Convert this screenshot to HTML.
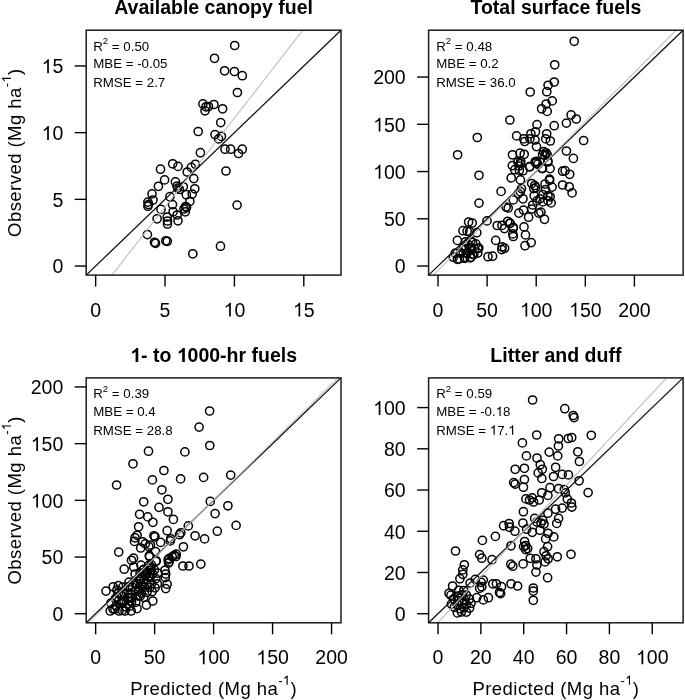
<!DOCTYPE html><html><head><meta charset="utf-8"><style>html,body{margin:0;padding:0;background:#fff;}svg{display:block;will-change:transform}</style></head><body>
<svg width="685" height="700" viewBox="0 0 685 700" font-family='"Liberation Sans", sans-serif'>
<rect width="685" height="700" fill="#fff"/>
<g fill="none" stroke="#000" stroke-width="1.5">
<circle cx="234.7" cy="45.5" r="4.1"/>
<circle cx="214.5" cy="58.3" r="4.1"/>
<circle cx="224.6" cy="70.8" r="4.1"/>
<circle cx="234.4" cy="71.5" r="4.1"/>
<circle cx="242.3" cy="75.7" r="4.1"/>
<circle cx="237.4" cy="92.5" r="4.1"/>
<circle cx="202.9" cy="103.9" r="4.1"/>
<circle cx="205.0" cy="110.8" r="4.1"/>
<circle cx="206.0" cy="106.8" r="4.1"/>
<circle cx="208.5" cy="106.5" r="4.1"/>
<circle cx="213.9" cy="104.5" r="4.1"/>
<circle cx="222.6" cy="108.8" r="4.1"/>
<circle cx="220.7" cy="122.6" r="4.1"/>
<circle cx="198.2" cy="131.5" r="4.1"/>
<circle cx="215.0" cy="134.6" r="4.1"/>
<circle cx="221.4" cy="136.4" r="4.1"/>
<circle cx="218.6" cy="138.9" r="4.1"/>
<circle cx="200.4" cy="152.7" r="4.1"/>
<circle cx="225.0" cy="149.2" r="4.1"/>
<circle cx="230.6" cy="149.2" r="4.1"/>
<circle cx="242.3" cy="149.2" r="4.1"/>
<circle cx="238.5" cy="153.5" r="4.1"/>
<circle cx="172.7" cy="163.8" r="4.1"/>
<circle cx="178.0" cy="166.4" r="4.1"/>
<circle cx="160.5" cy="169.2" r="4.1"/>
<circle cx="164.6" cy="179.9" r="4.1"/>
<circle cx="158.4" cy="186.3" r="4.1"/>
<circle cx="152.0" cy="193.9" r="4.1"/>
<circle cx="153.0" cy="200.0" r="4.1"/>
<circle cx="147.9" cy="202.1" r="4.1"/>
<circle cx="147.9" cy="206.2" r="4.1"/>
<circle cx="175.4" cy="181.9" r="4.1"/>
<circle cx="177.7" cy="188.1" r="4.1"/>
<circle cx="183.3" cy="186.8" r="4.1"/>
<circle cx="187.2" cy="172.0" r="4.1"/>
<circle cx="191.3" cy="167.4" r="4.1"/>
<circle cx="195.4" cy="164.3" r="4.1"/>
<circle cx="193.8" cy="178.6" r="4.1"/>
<circle cx="194.8" cy="188.8" r="4.1"/>
<circle cx="186.3" cy="194.7" r="4.1"/>
<circle cx="192.2" cy="194.1" r="4.1"/>
<circle cx="189.9" cy="201.3" r="4.1"/>
<circle cx="185.6" cy="206.5" r="4.1"/>
<circle cx="185.3" cy="211.8" r="4.1"/>
<circle cx="169.9" cy="196.7" r="4.1"/>
<circle cx="172.5" cy="204.6" r="4.1"/>
<circle cx="173.1" cy="211.8" r="4.1"/>
<circle cx="161.0" cy="209.4" r="4.1"/>
<circle cx="167.2" cy="217.0" r="4.1"/>
<circle cx="177.1" cy="215.0" r="4.1"/>
<circle cx="157.1" cy="218.8" r="4.1"/>
<circle cx="167.5" cy="221.0" r="4.1"/>
<circle cx="167.5" cy="224.0" r="4.1"/>
<circle cx="178.0" cy="220.8" r="4.1"/>
<circle cx="147.4" cy="234.6" r="4.1"/>
<circle cx="154.5" cy="242.3" r="4.1"/>
<circle cx="155.5" cy="243.3" r="4.1"/>
<circle cx="165.8" cy="240.8" r="4.1"/>
<circle cx="167.3" cy="241.3" r="4.1"/>
<circle cx="192.8" cy="253.8" r="4.1"/>
<circle cx="237.1" cy="205.1" r="4.1"/>
<circle cx="220.5" cy="246.2" r="4.1"/>
<circle cx="226.0" cy="171.0" r="4.1"/>
<circle cx="148.5" cy="204.5" r="4.1"/>
<circle cx="186.5" cy="207.5" r="4.1"/>
<circle cx="184.0" cy="209.0" r="4.1"/>
<circle cx="177.0" cy="186.0" r="4.1"/>
<circle cx="179.5" cy="189.5" r="4.1"/>
</g>
<line x1="86.2" y1="275.1" x2="341.0" y2="30.2" stroke="#111" stroke-width="1.3"/>
<line x1="112.0" y1="275.1" x2="302.9" y2="30.2" stroke="#bebebe" stroke-width="1.1"/>
<rect x="86.2" y="30.2" width="254.8" height="244.9" fill="none" stroke="#1c1c1c" stroke-width="1.5"/>
<line x1="95.64" y1="275.1" x2="95.64" y2="286.6" stroke="#000" stroke-width="1.4"/>
<line x1="74.7" y1="266.03" x2="86.2" y2="266.03" stroke="#000" stroke-width="1.4"/>
<text x="95.64" y="316.6" font-size="19.5" text-anchor="middle">0</text>
<text x="63.3" y="273.3" font-size="19.5" text-anchor="end">0</text>
<line x1="165.03" y1="275.1" x2="165.03" y2="286.6" stroke="#000" stroke-width="1.4"/>
<line x1="74.7" y1="199.34" x2="86.2" y2="199.34" stroke="#000" stroke-width="1.4"/>
<text x="165.03" y="316.6" font-size="19.5" text-anchor="middle">5</text>
<text x="63.3" y="206.6" font-size="19.5" text-anchor="end">5</text>
<line x1="234.42" y1="275.1" x2="234.42" y2="286.6" stroke="#000" stroke-width="1.4"/>
<line x1="74.7" y1="132.64" x2="86.2" y2="132.64" stroke="#000" stroke-width="1.4"/>
<text x="234.42" y="316.6" font-size="19.5" text-anchor="middle">&#8199;0</text>
<text x="63.3" y="139.9" font-size="19.5" text-anchor="end">&#8199;0</text>
<line x1="303.81" y1="275.1" x2="303.81" y2="286.6" stroke="#000" stroke-width="1.4"/>
<line x1="74.7" y1="65.95" x2="86.2" y2="65.95" stroke="#000" stroke-width="1.4"/>
<text x="303.81" y="316.6" font-size="19.5" text-anchor="middle">&#8199;5</text>
<text x="63.3" y="73.2" font-size="19.5" text-anchor="end">&#8199;5</text>
<text x="213.6" y="14.2" font-size="19.5" font-weight="bold" text-anchor="middle">Available canopy fuel</text>
<text x="93.2" y="50.7" font-size="13.3">R<tspan dy="-6.5" font-size="9.6">2</tspan><tspan dy="6.5"> = 0.50</tspan></text>
<text x="93.2" y="68.3" font-size="13.3">MBE = -0.05</text>
<text x="93.2" y="87.1" font-size="13.3">RMSE = 2.7</text>
<g transform="translate(21,152.7) rotate(-90)"><text font-size="18.5" letter-spacing="0.45" text-anchor="middle">Observed (Mg ha<tspan dy="-10" font-size="13" letter-spacing="0.3">-&#8199;</tspan><tspan dy="10">)</tspan></text><path transform="matrix(0.00635 0 0 -0.00635 70.07 -10.00)" d="M763 0L583 0L583 1147C540 1106 483 1065 413 1024C343 983 280 952 223 931L223 1105C323 1152 411 1210 486 1277C561 1344 614 1407 645 1466L763 1466Z"/></g>
<g fill="none" stroke="#000" stroke-width="1.5">
<circle cx="574.2" cy="41.3" r="4.1"/>
<circle cx="554.7" cy="64.8" r="4.1"/>
<circle cx="554.2" cy="82.0" r="4.1"/>
<circle cx="548.1" cy="85.3" r="4.1"/>
<circle cx="546.8" cy="91.7" r="4.1"/>
<circle cx="530.2" cy="92.0" r="4.1"/>
<circle cx="552.2" cy="100.9" r="4.1"/>
<circle cx="546.1" cy="104.0" r="4.1"/>
<circle cx="541.6" cy="108.8" r="4.1"/>
<circle cx="547.2" cy="111.4" r="4.1"/>
<circle cx="509.9" cy="120.0" r="4.1"/>
<circle cx="537.0" cy="124.6" r="4.1"/>
<circle cx="554.2" cy="125.7" r="4.1"/>
<circle cx="516.6" cy="135.9" r="4.1"/>
<circle cx="530.9" cy="133.8" r="4.1"/>
<circle cx="535.5" cy="131.8" r="4.1"/>
<circle cx="523.7" cy="138.9" r="4.1"/>
<circle cx="529.9" cy="138.9" r="4.1"/>
<circle cx="535.0" cy="140.0" r="4.1"/>
<circle cx="524.7" cy="141.5" r="4.1"/>
<circle cx="546.7" cy="133.8" r="4.1"/>
<circle cx="545.7" cy="138.9" r="4.1"/>
<circle cx="550.3" cy="141.0" r="4.1"/>
<circle cx="536.5" cy="146.6" r="4.1"/>
<circle cx="543.7" cy="151.7" r="4.1"/>
<circle cx="546.0" cy="152.8" r="4.1"/>
<circle cx="544.9" cy="155.2" r="4.1"/>
<circle cx="542.5" cy="154.6" r="4.1"/>
<circle cx="547.2" cy="154.6" r="4.1"/>
<circle cx="512.5" cy="154.8" r="4.1"/>
<circle cx="520.1" cy="153.2" r="4.1"/>
<circle cx="524.2" cy="154.3" r="4.1"/>
<circle cx="520.7" cy="161.4" r="4.1"/>
<circle cx="536.5" cy="161.4" r="4.1"/>
<circle cx="535.2" cy="161.8" r="4.1"/>
<circle cx="537.8" cy="164.2" r="4.1"/>
<circle cx="520.5" cy="163.5" r="4.1"/>
<circle cx="519.0" cy="166.0" r="4.1"/>
<circle cx="547.8" cy="161.0" r="4.1"/>
<circle cx="542.5" cy="168.6" r="4.1"/>
<circle cx="550.1" cy="168.6" r="4.1"/>
<circle cx="529.7" cy="166.9" r="4.1"/>
<circle cx="549.5" cy="179.1" r="4.1"/>
<circle cx="571.1" cy="114.9" r="4.1"/>
<circle cx="576.3" cy="119.0" r="4.1"/>
<circle cx="566.4" cy="123.1" r="4.1"/>
<circle cx="583.6" cy="140.5" r="4.1"/>
<circle cx="566.4" cy="151.0" r="4.1"/>
<circle cx="573.4" cy="158.4" r="4.1"/>
<circle cx="477.3" cy="137.5" r="4.1"/>
<circle cx="457.6" cy="154.8" r="4.1"/>
<circle cx="479.0" cy="175.3" r="4.1"/>
<circle cx="501.1" cy="191.4" r="4.1"/>
<circle cx="512.3" cy="165.6" r="4.1"/>
<circle cx="517.9" cy="162.0" r="4.1"/>
<circle cx="514.8" cy="169.7" r="4.1"/>
<circle cx="519.4" cy="170.2" r="4.1"/>
<circle cx="523.0" cy="170.7" r="4.1"/>
<circle cx="511.2" cy="177.9" r="4.1"/>
<circle cx="520.4" cy="179.9" r="4.1"/>
<circle cx="529.6" cy="166.6" r="4.1"/>
<circle cx="535.8" cy="163.1" r="4.1"/>
<circle cx="541.9" cy="168.2" r="4.1"/>
<circle cx="548.0" cy="162.0" r="4.1"/>
<circle cx="562.6" cy="171.2" r="4.1"/>
<circle cx="565.1" cy="170.7" r="4.1"/>
<circle cx="569.7" cy="174.3" r="4.1"/>
<circle cx="562.6" cy="185.0" r="4.1"/>
<circle cx="569.2" cy="186.8" r="4.1"/>
<circle cx="572.1" cy="192.9" r="4.1"/>
<circle cx="531.7" cy="183.5" r="4.1"/>
<circle cx="534.7" cy="185.5" r="4.1"/>
<circle cx="535.8" cy="187.6" r="4.1"/>
<circle cx="533.7" cy="188.6" r="4.1"/>
<circle cx="545.0" cy="184.0" r="4.1"/>
<circle cx="549.6" cy="180.4" r="4.1"/>
<circle cx="552.1" cy="187.1" r="4.1"/>
<circle cx="545.5" cy="189.6" r="4.1"/>
<circle cx="542.9" cy="194.7" r="4.1"/>
<circle cx="548.0" cy="195.8" r="4.1"/>
<circle cx="550.1" cy="196.8" r="4.1"/>
<circle cx="534.2" cy="195.8" r="4.1"/>
<circle cx="539.9" cy="198.8" r="4.1"/>
<circle cx="542.9" cy="201.9" r="4.1"/>
<circle cx="548.0" cy="200.9" r="4.1"/>
<circle cx="551.1" cy="202.9" r="4.1"/>
<circle cx="536.8" cy="200.9" r="4.1"/>
<circle cx="532.7" cy="205.0" r="4.1"/>
<circle cx="521.5" cy="188.6" r="4.1"/>
<circle cx="520.4" cy="191.7" r="4.1"/>
<circle cx="518.4" cy="193.7" r="4.1"/>
<circle cx="513.3" cy="199.9" r="4.1"/>
<circle cx="523.0" cy="198.8" r="4.1"/>
<circle cx="506.1" cy="207.0" r="4.1"/>
<circle cx="508.2" cy="208.0" r="4.1"/>
<circle cx="518.9" cy="213.1" r="4.1"/>
<circle cx="523.5" cy="210.1" r="4.1"/>
<circle cx="528.6" cy="217.2" r="4.1"/>
<circle cx="531.7" cy="209.0" r="4.1"/>
<circle cx="538.8" cy="213.1" r="4.1"/>
<circle cx="540.9" cy="212.1" r="4.1"/>
<circle cx="544.5" cy="219.3" r="4.1"/>
<circle cx="507.7" cy="221.3" r="4.1"/>
<circle cx="510.2" cy="223.4" r="4.1"/>
<circle cx="513.3" cy="227.4" r="4.1"/>
<circle cx="524.0" cy="226.9" r="4.1"/>
<circle cx="502.0" cy="225.4" r="4.1"/>
<circle cx="479.0" cy="203.1" r="4.1"/>
<circle cx="487.0" cy="220.9" r="4.1"/>
<circle cx="468.6" cy="222.0" r="4.1"/>
<circle cx="472.2" cy="223.0" r="4.1"/>
<circle cx="463.0" cy="230.7" r="4.1"/>
<circle cx="467.1" cy="231.2" r="4.1"/>
<circle cx="469.6" cy="231.7" r="4.1"/>
<circle cx="476.8" cy="232.7" r="4.1"/>
<circle cx="457.4" cy="240.4" r="4.1"/>
<circle cx="465.5" cy="241.9" r="4.1"/>
<circle cx="470.7" cy="240.9" r="4.1"/>
<circle cx="475.8" cy="243.9" r="4.1"/>
<circle cx="478.8" cy="248.0" r="4.1"/>
<circle cx="463.5" cy="248.0" r="4.1"/>
<circle cx="469.6" cy="248.0" r="4.1"/>
<circle cx="474.7" cy="249.0" r="4.1"/>
<circle cx="455.3" cy="253.1" r="4.1"/>
<circle cx="460.4" cy="253.1" r="4.1"/>
<circle cx="466.6" cy="253.1" r="4.1"/>
<circle cx="472.7" cy="254.2" r="4.1"/>
<circle cx="477.8" cy="253.1" r="4.1"/>
<circle cx="457.4" cy="259.3" r="4.1"/>
<circle cx="464.5" cy="257.2" r="4.1"/>
<circle cx="470.7" cy="257.2" r="4.1"/>
<circle cx="453.3" cy="257.2" r="4.1"/>
<circle cx="497.2" cy="225.5" r="4.1"/>
<circle cx="504.4" cy="228.6" r="4.1"/>
<circle cx="495.7" cy="240.4" r="4.1"/>
<circle cx="502.0" cy="246.8" r="4.1"/>
<circle cx="504.6" cy="248.2" r="4.1"/>
<circle cx="488.0" cy="256.7" r="4.1"/>
<circle cx="492.6" cy="256.2" r="4.1"/>
<circle cx="509.7" cy="223.2" r="4.1"/>
<circle cx="513.3" cy="228.3" r="4.1"/>
<circle cx="512.8" cy="233.9" r="4.1"/>
<circle cx="513.3" cy="236.5" r="4.1"/>
<circle cx="525.5" cy="234.9" r="4.1"/>
<circle cx="531.2" cy="242.6" r="4.1"/>
<circle cx="525.0" cy="245.7" r="4.1"/>
<circle cx="467.9" cy="244.1" r="4.1"/>
<circle cx="472.5" cy="242.4" r="4.1"/>
<circle cx="465.5" cy="248.9" r="4.1"/>
<circle cx="471.5" cy="248.0" r="4.1"/>
<circle cx="477.8" cy="248.6" r="4.1"/>
<circle cx="460.8" cy="252.9" r="4.1"/>
<circle cx="466.9" cy="253.4" r="4.1"/>
<circle cx="473.8" cy="254.6" r="4.1"/>
<circle cx="459.3" cy="258.9" r="4.1"/>
<circle cx="464.7" cy="258.3" r="4.1"/>
<circle cx="470.3" cy="257.9" r="4.1"/>
<circle cx="501.8" cy="249.6" r="4.1"/>
</g>
<line x1="428.6" y1="275.1" x2="683.1" y2="30.2" stroke="#111" stroke-width="1.3"/>
<line x1="433.3" y1="275.1" x2="676.3" y2="30.2" stroke="#bebebe" stroke-width="1.1"/>
<rect x="428.6" y="30.2" width="254.5" height="244.9" fill="none" stroke="#1c1c1c" stroke-width="1.5"/>
<line x1="438.03" y1="275.1" x2="438.03" y2="286.6" stroke="#000" stroke-width="1.4"/>
<line x1="417.1" y1="266.03" x2="428.6" y2="266.03" stroke="#000" stroke-width="1.4"/>
<text x="438.03" y="316.6" font-size="19.5" text-anchor="middle">0</text>
<text x="405.7" y="273.3" font-size="19.5" text-anchor="end">0</text>
<line x1="487.12" y1="275.1" x2="487.12" y2="286.6" stroke="#000" stroke-width="1.4"/>
<line x1="417.1" y1="218.79" x2="428.6" y2="218.79" stroke="#000" stroke-width="1.4"/>
<text x="487.12" y="316.6" font-size="19.5" text-anchor="middle">50</text>
<text x="405.7" y="226.1" font-size="19.5" text-anchor="end">50</text>
<line x1="536.21" y1="275.1" x2="536.21" y2="286.6" stroke="#000" stroke-width="1.4"/>
<line x1="417.1" y1="171.55" x2="428.6" y2="171.55" stroke="#000" stroke-width="1.4"/>
<text x="536.21" y="316.6" font-size="19.5" text-anchor="middle">&#8199;00</text>
<text x="405.7" y="178.8" font-size="19.5" text-anchor="end">&#8199;00</text>
<line x1="585.31" y1="275.1" x2="585.31" y2="286.6" stroke="#000" stroke-width="1.4"/>
<line x1="417.1" y1="124.31" x2="428.6" y2="124.31" stroke="#000" stroke-width="1.4"/>
<text x="585.31" y="316.6" font-size="19.5" text-anchor="middle">&#8199;50</text>
<text x="405.7" y="131.6" font-size="19.5" text-anchor="end">&#8199;50</text>
<line x1="634.40" y1="275.1" x2="634.40" y2="286.6" stroke="#000" stroke-width="1.4"/>
<line x1="417.1" y1="77.06" x2="428.6" y2="77.06" stroke="#000" stroke-width="1.4"/>
<text x="634.40" y="316.6" font-size="19.5" text-anchor="middle">200</text>
<text x="405.7" y="84.4" font-size="19.5" text-anchor="end">200</text>
<text x="555.9" y="14.2" font-size="19.5" font-weight="bold" text-anchor="middle">Total surface fuels</text>
<text x="436.2" y="50.7" font-size="13.3">R<tspan dy="-6.5" font-size="9.6">2</tspan><tspan dy="6.5"> = 0.48</tspan></text>
<text x="436.2" y="68.3" font-size="13.3">MBE = 0.2</text>
<text x="436.2" y="87.1" font-size="13.3">RMSE = 36.0</text>
<g fill="none" stroke="#000" stroke-width="1.5">
<circle cx="209.6" cy="411.0" r="4.1"/>
<circle cx="199.1" cy="427.1" r="4.1"/>
<circle cx="209.8" cy="445.5" r="4.1"/>
<circle cx="184.9" cy="451.9" r="4.1"/>
<circle cx="148.5" cy="451.2" r="4.1"/>
<circle cx="133.0" cy="463.8" r="4.1"/>
<circle cx="163.9" cy="470.5" r="4.1"/>
<circle cx="152.4" cy="479.9" r="4.1"/>
<circle cx="116.6" cy="485.0" r="4.1"/>
<circle cx="180.6" cy="478.9" r="4.1"/>
<circle cx="161.9" cy="489.8" r="4.1"/>
<circle cx="167.9" cy="499.3" r="4.1"/>
<circle cx="143.7" cy="501.8" r="4.1"/>
<circle cx="159.0" cy="507.4" r="4.1"/>
<circle cx="167.9" cy="511.8" r="4.1"/>
<circle cx="203.6" cy="477.4" r="4.1"/>
<circle cx="230.7" cy="475.1" r="4.1"/>
<circle cx="210.3" cy="501.4" r="4.1"/>
<circle cx="227.9" cy="505.8" r="4.1"/>
<circle cx="215.1" cy="513.6" r="4.1"/>
<circle cx="188.3" cy="525.9" r="4.1"/>
<circle cx="236.1" cy="525.4" r="4.1"/>
<circle cx="173.4" cy="519.4" r="4.1"/>
<circle cx="139.6" cy="514.3" r="4.1"/>
<circle cx="147.8" cy="516.9" r="4.1"/>
<circle cx="152.9" cy="522.3" r="4.1"/>
<circle cx="138.6" cy="526.8" r="4.1"/>
<circle cx="167.2" cy="530.7" r="4.1"/>
<circle cx="137.1" cy="535.3" r="4.1"/>
<circle cx="135.0" cy="537.8" r="4.1"/>
<circle cx="134.5" cy="541.4" r="4.1"/>
<circle cx="142.7" cy="541.9" r="4.1"/>
<circle cx="145.3" cy="543.9" r="4.1"/>
<circle cx="140.7" cy="548.0" r="4.1"/>
<circle cx="148.8" cy="546.5" r="4.1"/>
<circle cx="150.4" cy="545.0" r="4.1"/>
<circle cx="153.9" cy="535.8" r="4.1"/>
<circle cx="155.0" cy="536.8" r="4.1"/>
<circle cx="160.6" cy="542.4" r="4.1"/>
<circle cx="170.8" cy="538.8" r="4.1"/>
<circle cx="170.3" cy="540.9" r="4.1"/>
<circle cx="179.5" cy="534.7" r="4.1"/>
<circle cx="118.7" cy="552.1" r="4.1"/>
<circle cx="155.5" cy="551.6" r="4.1"/>
<circle cx="149.3" cy="555.7" r="4.1"/>
<circle cx="133.5" cy="558.2" r="4.1"/>
<circle cx="131.5" cy="560.3" r="4.1"/>
<circle cx="156.0" cy="561.3" r="4.1"/>
<circle cx="148.8" cy="565.4" r="4.1"/>
<circle cx="150.9" cy="567.4" r="4.1"/>
<circle cx="180.8" cy="532.8" r="4.1"/>
<circle cx="195.1" cy="535.8" r="4.1"/>
<circle cx="204.6" cy="538.9" r="4.1"/>
<circle cx="217.3" cy="531.2" r="4.1"/>
<circle cx="183.4" cy="546.8" r="4.1"/>
<circle cx="176.2" cy="554.2" r="4.1"/>
<circle cx="174.2" cy="555.3" r="4.1"/>
<circle cx="172.2" cy="556.8" r="4.1"/>
<circle cx="169.1" cy="561.9" r="4.1"/>
<circle cx="168.1" cy="559.9" r="4.1"/>
<circle cx="182.9" cy="566.0" r="4.1"/>
<circle cx="189.0" cy="566.0" r="4.1"/>
<circle cx="200.8" cy="564.1" r="4.1"/>
<circle cx="124.2" cy="569.2" r="4.1"/>
<circle cx="133.7" cy="567.0" r="4.1"/>
<circle cx="141.0" cy="565.2" r="4.1"/>
<circle cx="135.1" cy="574.0" r="4.1"/>
<circle cx="106.0" cy="591.1" r="4.1"/>
<circle cx="113.2" cy="586.8" r="4.1"/>
<circle cx="118.4" cy="585.7" r="4.1"/>
<circle cx="122.7" cy="587.1" r="4.1"/>
<circle cx="116.9" cy="590.0" r="4.1"/>
<circle cx="128.6" cy="587.1" r="4.1"/>
<circle cx="120.5" cy="594.4" r="4.1"/>
<circle cx="127.8" cy="597.3" r="4.1"/>
<circle cx="115.4" cy="598.8" r="4.1"/>
<circle cx="137.3" cy="584.2" r="4.1"/>
<circle cx="140.3" cy="579.1" r="4.1"/>
<circle cx="138.8" cy="590.0" r="4.1"/>
<circle cx="140.3" cy="595.9" r="4.1"/>
<circle cx="131.5" cy="601.7" r="4.1"/>
<circle cx="122.7" cy="601.7" r="4.1"/>
<circle cx="142.4" cy="586.4" r="4.1"/>
<circle cx="168.9" cy="558.6" r="4.1"/>
<circle cx="168.6" cy="563.0" r="4.1"/>
<circle cx="164.9" cy="570.3" r="4.1"/>
<circle cx="165.7" cy="574.0" r="4.1"/>
<circle cx="165.3" cy="577.6" r="4.1"/>
<circle cx="167.1" cy="584.2" r="4.1"/>
<circle cx="165.7" cy="588.6" r="4.1"/>
<circle cx="156.2" cy="560.8" r="4.1"/>
<circle cx="149.6" cy="556.5" r="4.1"/>
<circle cx="175.9" cy="556.5" r="4.1"/>
<circle cx="110.2" cy="611.0" r="4.1"/>
<circle cx="114.9" cy="609.2" r="4.1"/>
<circle cx="122.4" cy="610.4" r="4.1"/>
<circle cx="131.2" cy="611.0" r="4.1"/>
<circle cx="137.0" cy="608.6" r="4.1"/>
<circle cx="146.4" cy="605.1" r="4.1"/>
<circle cx="152.8" cy="601.0" r="4.1"/>
<circle cx="151.3" cy="564.7" r="4.1"/>
<circle cx="143.9" cy="569.4" r="4.1"/>
<circle cx="150.1" cy="568.3" r="4.1"/>
<circle cx="154.4" cy="569.9" r="4.1"/>
<circle cx="140.1" cy="573.3" r="4.1"/>
<circle cx="147.2" cy="573.7" r="4.1"/>
<circle cx="152.5" cy="573.8" r="4.1"/>
<circle cx="157.7" cy="573.1" r="4.1"/>
<circle cx="138.9" cy="579.1" r="4.1"/>
<circle cx="144.2" cy="578.9" r="4.1"/>
<circle cx="150.1" cy="577.5" r="4.1"/>
<circle cx="155.9" cy="578.6" r="4.1"/>
<circle cx="129.0" cy="582.1" r="4.1"/>
<circle cx="135.7" cy="582.9" r="4.1"/>
<circle cx="141.0" cy="583.8" r="4.1"/>
<circle cx="146.6" cy="583.8" r="4.1"/>
<circle cx="151.6" cy="583.6" r="4.1"/>
<circle cx="157.3" cy="583.9" r="4.1"/>
<circle cx="128.2" cy="586.8" r="4.1"/>
<circle cx="132.3" cy="587.0" r="4.1"/>
<circle cx="139.5" cy="587.5" r="4.1"/>
<circle cx="144.5" cy="587.2" r="4.1"/>
<circle cx="149.8" cy="587.4" r="4.1"/>
<circle cx="155.1" cy="587.8" r="4.1"/>
<circle cx="118.4" cy="593.0" r="4.1"/>
<circle cx="124.2" cy="593.1" r="4.1"/>
<circle cx="130.1" cy="593.2" r="4.1"/>
<circle cx="135.3" cy="591.5" r="4.1"/>
<circle cx="141.3" cy="593.1" r="4.1"/>
<circle cx="147.0" cy="592.3" r="4.1"/>
<circle cx="152.2" cy="591.6" r="4.1"/>
<circle cx="116.9" cy="596.9" r="4.1"/>
<circle cx="121.4" cy="595.9" r="4.1"/>
<circle cx="128.1" cy="597.8" r="4.1"/>
<circle cx="132.2" cy="597.4" r="4.1"/>
<circle cx="138.4" cy="596.1" r="4.1"/>
<circle cx="143.8" cy="597.3" r="4.1"/>
<circle cx="118.9" cy="600.5" r="4.1"/>
<circle cx="124.0" cy="600.5" r="4.1"/>
<circle cx="129.8" cy="601.1" r="4.1"/>
<circle cx="135.8" cy="602.4" r="4.1"/>
<circle cx="111.0" cy="603.0" r="4.1"/>
<circle cx="116.0" cy="606.0" r="4.1"/>
<circle cx="121.0" cy="603.0" r="4.1"/>
<circle cx="126.0" cy="607.0" r="4.1"/>
<circle cx="113.0" cy="609.0" r="4.1"/>
<circle cx="119.0" cy="611.0" r="4.1"/>
<circle cx="125.0" cy="611.0" r="4.1"/>
<circle cx="130.0" cy="606.0" r="4.1"/>
<circle cx="143.0" cy="570.0" r="4.1"/>
<circle cx="147.0" cy="572.0" r="4.1"/>
<circle cx="151.0" cy="570.0" r="4.1"/>
<circle cx="145.0" cy="575.0" r="4.1"/>
<circle cx="149.0" cy="577.0" r="4.1"/>
</g>
<line x1="86.2" y1="622.8" x2="341.0" y2="377.9" stroke="#111" stroke-width="1.3"/>
<line x1="88.3" y1="622.8" x2="338.1" y2="377.9" stroke="#bebebe" stroke-width="1.1"/>
<rect x="86.2" y="377.9" width="254.8" height="244.9" fill="none" stroke="#1c1c1c" stroke-width="1.5"/>
<line x1="95.64" y1="622.8" x2="95.64" y2="634.3" stroke="#000" stroke-width="1.4"/>
<line x1="74.7" y1="613.73" x2="86.2" y2="613.73" stroke="#000" stroke-width="1.4"/>
<text x="95.64" y="664.3" font-size="19.5" text-anchor="middle">0</text>
<text x="63.3" y="621.0" font-size="19.5" text-anchor="end">0</text>
<line x1="154.62" y1="622.8" x2="154.62" y2="634.3" stroke="#000" stroke-width="1.4"/>
<line x1="74.7" y1="557.04" x2="86.2" y2="557.04" stroke="#000" stroke-width="1.4"/>
<text x="154.62" y="664.3" font-size="19.5" text-anchor="middle">50</text>
<text x="63.3" y="564.3" font-size="19.5" text-anchor="end">50</text>
<line x1="213.60" y1="622.8" x2="213.60" y2="634.3" stroke="#000" stroke-width="1.4"/>
<line x1="74.7" y1="500.35" x2="86.2" y2="500.35" stroke="#000" stroke-width="1.4"/>
<text x="213.60" y="664.3" font-size="19.5" text-anchor="middle">&#8199;00</text>
<text x="63.3" y="507.6" font-size="19.5" text-anchor="end">&#8199;00</text>
<line x1="272.58" y1="622.8" x2="272.58" y2="634.3" stroke="#000" stroke-width="1.4"/>
<line x1="74.7" y1="443.66" x2="86.2" y2="443.66" stroke="#000" stroke-width="1.4"/>
<text x="272.58" y="664.3" font-size="19.5" text-anchor="middle">&#8199;50</text>
<text x="63.3" y="451.0" font-size="19.5" text-anchor="end">&#8199;50</text>
<line x1="331.56" y1="622.8" x2="331.56" y2="634.3" stroke="#000" stroke-width="1.4"/>
<line x1="74.7" y1="386.97" x2="86.2" y2="386.97" stroke="#000" stroke-width="1.4"/>
<text x="331.56" y="664.3" font-size="19.5" text-anchor="middle">200</text>
<text x="63.3" y="394.3" font-size="19.5" text-anchor="end">200</text>
<text x="213.6" y="361.9" font-size="19.5" font-weight="bold" text-anchor="middle">&#8199;- to &#8199;000-hr fuels</text>
<text x="93.2" y="398.4" font-size="13.3">R<tspan dy="-6.5" font-size="9.6">2</tspan><tspan dy="6.5"> = 0.39</tspan></text>
<text x="93.2" y="416.0" font-size="13.3">MBE = 0.4</text>
<text x="93.2" y="434.8" font-size="13.3">RMSE = 28.8</text>
<g transform="translate(21,500.3) rotate(-90)"><text font-size="18.5" letter-spacing="0.45" text-anchor="middle">Observed (Mg ha<tspan dy="-10" font-size="13" letter-spacing="0.3">-&#8199;</tspan><tspan dy="10">)</tspan></text><path transform="matrix(0.00635 0 0 -0.00635 70.07 -10.00)" d="M763 0L583 0L583 1147C540 1106 483 1065 413 1024C343 983 280 952 223 931L223 1105C323 1152 411 1210 486 1277C561 1344 614 1407 645 1466L763 1466Z"/></g>
<text x="213.6" y="694.7" font-size="18.5" letter-spacing="0.45" text-anchor="middle">Predicted (Mg ha<tspan dy="-10" font-size="13" letter-spacing="0.3">-&#8199;</tspan><tspan dy="10">)</tspan></text>
<g fill="none" stroke="#000" stroke-width="1.5">
<circle cx="532.6" cy="400.0" r="4.1"/>
<circle cx="564.8" cy="408.7" r="4.1"/>
<circle cx="573.2" cy="415.5" r="4.1"/>
<circle cx="574.1" cy="417.6" r="4.1"/>
<circle cx="536.7" cy="435.0" r="4.1"/>
<circle cx="522.4" cy="442.9" r="4.1"/>
<circle cx="558.7" cy="438.8" r="4.1"/>
<circle cx="568.3" cy="438.5" r="4.1"/>
<circle cx="571.7" cy="437.5" r="4.1"/>
<circle cx="558.4" cy="446.0" r="4.1"/>
<circle cx="549.2" cy="452.1" r="4.1"/>
<circle cx="557.7" cy="455.9" r="4.1"/>
<circle cx="577.8" cy="451.8" r="4.1"/>
<circle cx="526.4" cy="455.9" r="4.1"/>
<circle cx="537.0" cy="458.0" r="4.1"/>
<circle cx="579.4" cy="461.5" r="4.1"/>
<circle cx="591.3" cy="435.3" r="4.1"/>
<circle cx="579.1" cy="480.8" r="4.1"/>
<circle cx="588.1" cy="492.6" r="4.1"/>
<circle cx="540.3" cy="464.7" r="4.1"/>
<circle cx="542.3" cy="469.3" r="4.1"/>
<circle cx="538.2" cy="472.9" r="4.1"/>
<circle cx="541.8" cy="478.5" r="4.1"/>
<circle cx="515.2" cy="469.3" r="4.1"/>
<circle cx="524.4" cy="468.3" r="4.1"/>
<circle cx="524.4" cy="479.5" r="4.1"/>
<circle cx="513.7" cy="482.6" r="4.1"/>
<circle cx="515.2" cy="484.1" r="4.1"/>
<circle cx="523.4" cy="487.2" r="4.1"/>
<circle cx="555.6" cy="467.3" r="4.1"/>
<circle cx="553.5" cy="476.5" r="4.1"/>
<circle cx="562.2" cy="474.4" r="4.1"/>
<circle cx="568.4" cy="474.9" r="4.1"/>
<circle cx="550.0" cy="487.7" r="4.1"/>
<circle cx="558.6" cy="488.7" r="4.1"/>
<circle cx="541.8" cy="492.8" r="4.1"/>
<circle cx="547.9" cy="495.4" r="4.1"/>
<circle cx="539.2" cy="500.0" r="4.1"/>
<circle cx="532.1" cy="497.9" r="4.1"/>
<circle cx="529.5" cy="500.0" r="4.1"/>
<circle cx="525.9" cy="498.9" r="4.1"/>
<circle cx="533.6" cy="502.0" r="4.1"/>
<circle cx="565.3" cy="492.8" r="4.1"/>
<circle cx="564.3" cy="489.7" r="4.1"/>
<circle cx="567.3" cy="499.0" r="4.1"/>
<circle cx="571.4" cy="503.0" r="4.1"/>
<circle cx="571.9" cy="507.1" r="4.1"/>
<circle cx="562.2" cy="508.1" r="4.1"/>
<circle cx="555.6" cy="509.2" r="4.1"/>
<circle cx="547.9" cy="513.2" r="4.1"/>
<circle cx="523.4" cy="511.7" r="4.1"/>
<circle cx="558.6" cy="518.4" r="4.1"/>
<circle cx="534.6" cy="518.4" r="4.1"/>
<circle cx="542.8" cy="520.4" r="4.1"/>
<circle cx="522.9" cy="523.0" r="4.1"/>
<circle cx="509.1" cy="523.5" r="4.1"/>
<circle cx="556.7" cy="523.4" r="4.1"/>
<circle cx="571.0" cy="554.3" r="4.1"/>
<circle cx="503.6" cy="525.7" r="4.1"/>
<circle cx="509.5" cy="527.2" r="4.1"/>
<circle cx="495.4" cy="536.4" r="4.1"/>
<circle cx="514.9" cy="531.2" r="4.1"/>
<circle cx="526.7" cy="529.2" r="4.1"/>
<circle cx="532.3" cy="532.3" r="4.1"/>
<circle cx="540.0" cy="530.2" r="4.1"/>
<circle cx="536.9" cy="522.0" r="4.1"/>
<circle cx="541.0" cy="523.1" r="4.1"/>
<circle cx="544.0" cy="524.1" r="4.1"/>
<circle cx="548.1" cy="533.3" r="4.1"/>
<circle cx="553.8" cy="536.9" r="4.1"/>
<circle cx="545.6" cy="538.9" r="4.1"/>
<circle cx="524.6" cy="541.5" r="4.1"/>
<circle cx="525.7" cy="545.5" r="4.1"/>
<circle cx="523.6" cy="546.6" r="4.1"/>
<circle cx="527.7" cy="548.6" r="4.1"/>
<circle cx="525.7" cy="549.6" r="4.1"/>
<circle cx="547.6" cy="546.6" r="4.1"/>
<circle cx="544.0" cy="551.7" r="4.1"/>
<circle cx="546.1" cy="555.8" r="4.1"/>
<circle cx="548.1" cy="558.8" r="4.1"/>
<circle cx="545.1" cy="561.9" r="4.1"/>
<circle cx="557.3" cy="556.8" r="4.1"/>
<circle cx="530.3" cy="558.3" r="4.1"/>
<circle cx="535.9" cy="558.8" r="4.1"/>
<circle cx="536.9" cy="565.0" r="4.1"/>
<circle cx="523.1" cy="563.9" r="4.1"/>
<circle cx="535.9" cy="572.1" r="4.1"/>
<circle cx="547.6" cy="577.7" r="4.1"/>
<circle cx="533.3" cy="588.0" r="4.1"/>
<circle cx="533.3" cy="591.1" r="4.1"/>
<circle cx="533.3" cy="600.3" r="4.1"/>
<circle cx="482.4" cy="540.4" r="4.1"/>
<circle cx="455.5" cy="551.0" r="4.1"/>
<circle cx="479.6" cy="554.6" r="4.1"/>
<circle cx="481.8" cy="558.2" r="4.1"/>
<circle cx="492.0" cy="559.7" r="4.1"/>
<circle cx="511.0" cy="545.8" r="4.1"/>
<circle cx="464.3" cy="564.8" r="4.1"/>
<circle cx="462.8" cy="569.9" r="4.1"/>
<circle cx="462.8" cy="574.3" r="4.1"/>
<circle cx="459.9" cy="578.7" r="4.1"/>
<circle cx="452.6" cy="586.0" r="4.1"/>
<circle cx="449.0" cy="593.3" r="4.1"/>
<circle cx="475.3" cy="579.4" r="4.1"/>
<circle cx="470.1" cy="583.1" r="4.1"/>
<circle cx="481.1" cy="582.3" r="4.1"/>
<circle cx="483.3" cy="580.1" r="4.1"/>
<circle cx="479.6" cy="588.2" r="4.1"/>
<circle cx="481.8" cy="586.7" r="4.1"/>
<circle cx="492.8" cy="583.8" r="4.1"/>
<circle cx="496.4" cy="583.8" r="4.1"/>
<circle cx="501.5" cy="586.7" r="4.1"/>
<circle cx="500.6" cy="593.6" r="4.1"/>
<circle cx="499.5" cy="592.5" r="4.1"/>
<circle cx="511.0" cy="583.8" r="4.1"/>
<circle cx="517.6" cy="586.0" r="4.1"/>
<circle cx="476.7" cy="597.7" r="4.1"/>
<circle cx="483.3" cy="599.9" r="4.1"/>
<circle cx="488.4" cy="597.7" r="4.1"/>
<circle cx="510.8" cy="564.2" r="4.1"/>
<circle cx="512.8" cy="566.2" r="4.1"/>
<circle cx="458.7" cy="590.4" r="4.1"/>
<circle cx="463.8" cy="590.5" r="4.1"/>
<circle cx="450.9" cy="595.2" r="4.1"/>
<circle cx="457.4" cy="596.0" r="4.1"/>
<circle cx="461.9" cy="594.8" r="4.1"/>
<circle cx="466.3" cy="595.0" r="4.1"/>
<circle cx="453.7" cy="598.8" r="4.1"/>
<circle cx="458.6" cy="600.5" r="4.1"/>
<circle cx="464.7" cy="600.2" r="4.1"/>
<circle cx="469.4" cy="599.0" r="4.1"/>
<circle cx="451.4" cy="604.1" r="4.1"/>
<circle cx="457.1" cy="604.5" r="4.1"/>
<circle cx="462.2" cy="603.0" r="4.1"/>
<circle cx="466.4" cy="604.1" r="4.1"/>
<circle cx="471.0" cy="603.2" r="4.1"/>
<circle cx="454.3" cy="607.2" r="4.1"/>
<circle cx="460.1" cy="608.7" r="4.1"/>
<circle cx="464.1" cy="607.6" r="4.1"/>
<circle cx="469.6" cy="608.1" r="4.1"/>
<circle cx="457.4" cy="612.9" r="4.1"/>
<circle cx="461.4" cy="612.0" r="4.1"/>
<circle cx="466.4" cy="612.1" r="4.1"/>
</g>
<line x1="428.6" y1="622.8" x2="683.1" y2="377.9" stroke="#111" stroke-width="1.3"/>
<line x1="437.7" y1="622.8" x2="666.6" y2="377.9" stroke="#bebebe" stroke-width="1.1"/>
<rect x="428.6" y="377.9" width="254.5" height="244.9" fill="none" stroke="#1c1c1c" stroke-width="1.5"/>
<line x1="438.03" y1="622.8" x2="438.03" y2="634.3" stroke="#000" stroke-width="1.4"/>
<line x1="417.1" y1="613.73" x2="428.6" y2="613.73" stroke="#000" stroke-width="1.4"/>
<text x="438.03" y="664.3" font-size="19.5" text-anchor="middle">0</text>
<text x="405.7" y="621.0" font-size="19.5" text-anchor="end">0</text>
<line x1="480.87" y1="622.8" x2="480.87" y2="634.3" stroke="#000" stroke-width="1.4"/>
<line x1="417.1" y1="572.50" x2="428.6" y2="572.50" stroke="#000" stroke-width="1.4"/>
<text x="480.87" y="664.3" font-size="19.5" text-anchor="middle">20</text>
<text x="405.7" y="579.8" font-size="19.5" text-anchor="end">20</text>
<line x1="523.72" y1="622.8" x2="523.72" y2="634.3" stroke="#000" stroke-width="1.4"/>
<line x1="417.1" y1="531.27" x2="428.6" y2="531.27" stroke="#000" stroke-width="1.4"/>
<text x="523.72" y="664.3" font-size="19.5" text-anchor="middle">40</text>
<text x="405.7" y="538.6" font-size="19.5" text-anchor="end">40</text>
<line x1="566.56" y1="622.8" x2="566.56" y2="634.3" stroke="#000" stroke-width="1.4"/>
<line x1="417.1" y1="490.04" x2="428.6" y2="490.04" stroke="#000" stroke-width="1.4"/>
<text x="566.56" y="664.3" font-size="19.5" text-anchor="middle">60</text>
<text x="405.7" y="497.3" font-size="19.5" text-anchor="end">60</text>
<line x1="609.41" y1="622.8" x2="609.41" y2="634.3" stroke="#000" stroke-width="1.4"/>
<line x1="417.1" y1="448.81" x2="428.6" y2="448.81" stroke="#000" stroke-width="1.4"/>
<text x="609.41" y="664.3" font-size="19.5" text-anchor="middle">80</text>
<text x="405.7" y="456.1" font-size="19.5" text-anchor="end">80</text>
<line x1="652.25" y1="622.8" x2="652.25" y2="634.3" stroke="#000" stroke-width="1.4"/>
<line x1="417.1" y1="407.58" x2="428.6" y2="407.58" stroke="#000" stroke-width="1.4"/>
<text x="652.25" y="664.3" font-size="19.5" text-anchor="middle">&#8199;00</text>
<text x="405.7" y="414.9" font-size="19.5" text-anchor="end">&#8199;00</text>
<text x="555.9" y="361.9" font-size="19.5" font-weight="bold" text-anchor="middle">Litter and duff</text>
<text x="436.2" y="398.4" font-size="13.3">R<tspan dy="-6.5" font-size="9.6">2</tspan><tspan dy="6.5"> = 0.59</tspan></text>
<text x="436.2" y="416.0" font-size="13.3">MBE = -0.&#8199;8</text>
<text x="436.2" y="434.8" font-size="13.3">RMSE = &#8199;7.&#8199;</text>
<text x="555.9" y="694.7" font-size="18.5" letter-spacing="0.45" text-anchor="middle">Predicted (Mg ha<tspan dy="-10" font-size="13" letter-spacing="0.3">-&#8199;</tspan><tspan dy="10">)</tspan></text>
<path transform="matrix(0.00952 0 0 -0.00952 223.57 316.60)" d="M763 0L583 0L583 1147C540 1106 483 1065 413 1024C343 983 280 952 223 931L223 1105C323 1152 411 1210 486 1277C561 1344 614 1407 645 1466L763 1466Z"/><path transform="matrix(0.00952 0 0 -0.00952 41.60 139.90)" d="M763 0L583 0L583 1147C540 1106 483 1065 413 1024C343 983 280 952 223 931L223 1105C323 1152 411 1210 486 1277C561 1344 614 1407 645 1466L763 1466Z"/><path transform="matrix(0.00952 0 0 -0.00952 292.96 316.60)" d="M763 0L583 0L583 1147C540 1106 483 1065 413 1024C343 983 280 952 223 931L223 1105C323 1152 411 1210 486 1277C561 1344 614 1407 645 1466L763 1466Z"/><path transform="matrix(0.00952 0 0 -0.00952 41.60 73.20)" d="M763 0L583 0L583 1147C540 1106 483 1065 413 1024C343 983 280 952 223 931L223 1105C323 1152 411 1210 486 1277C561 1344 614 1407 645 1466L763 1466Z"/><path transform="matrix(0.00952 0 0 -0.00952 519.94 316.60)" d="M763 0L583 0L583 1147C540 1106 483 1065 413 1024C343 983 280 952 223 931L223 1105C323 1152 411 1210 486 1277C561 1344 614 1407 645 1466L763 1466Z"/><path transform="matrix(0.00952 0 0 -0.00952 373.15 178.80)" d="M763 0L583 0L583 1147C540 1106 483 1065 413 1024C343 983 280 952 223 931L223 1105C323 1152 411 1210 486 1277C561 1344 614 1407 645 1466L763 1466Z"/><path transform="matrix(0.00952 0 0 -0.00952 569.04 316.60)" d="M763 0L583 0L583 1147C540 1106 483 1065 413 1024C343 983 280 952 223 931L223 1105C323 1152 411 1210 486 1277C561 1344 614 1407 645 1466L763 1466Z"/><path transform="matrix(0.00952 0 0 -0.00952 373.15 131.60)" d="M763 0L583 0L583 1147C540 1106 483 1065 413 1024C343 983 280 952 223 931L223 1105C323 1152 411 1210 486 1277C561 1344 614 1407 645 1466L763 1466Z"/><path transform="matrix(0.00952 0 0 -0.00952 197.33 664.30)" d="M763 0L583 0L583 1147C540 1106 483 1065 413 1024C343 983 280 952 223 931L223 1105C323 1152 411 1210 486 1277C561 1344 614 1407 645 1466L763 1466Z"/><path transform="matrix(0.00952 0 0 -0.00952 30.75 507.60)" d="M763 0L583 0L583 1147C540 1106 483 1065 413 1024C343 983 280 952 223 931L223 1105C323 1152 411 1210 486 1277C561 1344 614 1407 645 1466L763 1466Z"/><path transform="matrix(0.00952 0 0 -0.00952 256.31 664.30)" d="M763 0L583 0L583 1147C540 1106 483 1065 413 1024C343 983 280 952 223 931L223 1105C323 1152 411 1210 486 1277C561 1344 614 1407 645 1466L763 1466Z"/><path transform="matrix(0.00952 0 0 -0.00952 30.75 451.00)" d="M763 0L583 0L583 1147C540 1106 483 1065 413 1024C343 983 280 952 223 931L223 1105C323 1152 411 1210 486 1277C561 1344 614 1407 645 1466L763 1466Z"/><path transform="matrix(0.00952 0 0 -0.00952 130.15 361.90)" d="M852 0L571 0L571 1059C468 963 347 892 208 846L208 1101C281 1125 361 1170 447 1237C533 1304 592 1380 624 1466L852 1466Z"/><path transform="matrix(0.00952 0 0 -0.00952 176.73 361.90)" d="M852 0L571 0L571 1059C468 963 347 892 208 846L208 1101C281 1125 361 1170 447 1237C533 1304 592 1380 624 1466L852 1466Z"/><path transform="matrix(0.00635 0 0 -0.00635 282.87 684.70)" d="M763 0L583 0L583 1147C540 1106 483 1065 413 1024C343 983 280 952 223 931L223 1105C323 1152 411 1210 486 1277C561 1344 614 1407 645 1466L763 1466Z"/><path transform="matrix(0.00952 0 0 -0.00952 635.98 664.30)" d="M763 0L583 0L583 1147C540 1106 483 1065 413 1024C343 983 280 952 223 931L223 1105C323 1152 411 1210 486 1277C561 1344 614 1407 645 1466L763 1466Z"/><path transform="matrix(0.00952 0 0 -0.00952 373.15 414.90)" d="M763 0L583 0L583 1147C540 1106 483 1065 413 1024C343 983 280 952 223 931L223 1105C323 1152 411 1210 486 1277C561 1344 614 1407 645 1466L763 1466Z"/><path transform="matrix(0.00649 0 0 -0.00649 495.68 416.00)" d="M763 0L583 0L583 1147C540 1106 483 1065 413 1024C343 983 280 952 223 931L223 1105C323 1152 411 1210 486 1277C561 1344 614 1407 645 1466L763 1466Z"/><path transform="matrix(0.00649 0 0 -0.00649 489.76 434.80)" d="M763 0L583 0L583 1147C540 1106 483 1065 413 1024C343 983 280 952 223 931L223 1105C323 1152 411 1210 486 1277C561 1344 614 1407 645 1466L763 1466Z"/><path transform="matrix(0.00649 0 0 -0.00649 508.25 434.80)" d="M763 0L583 0L583 1147C540 1106 483 1065 413 1024C343 983 280 952 223 931L223 1105C323 1152 411 1210 486 1277C561 1344 614 1407 645 1466L763 1466Z"/><path transform="matrix(0.00635 0 0 -0.00635 625.17 684.70)" d="M763 0L583 0L583 1147C540 1106 483 1065 413 1024C343 983 280 952 223 931L223 1105C323 1152 411 1210 486 1277C561 1344 614 1407 645 1466L763 1466Z"/></svg></body></html>
